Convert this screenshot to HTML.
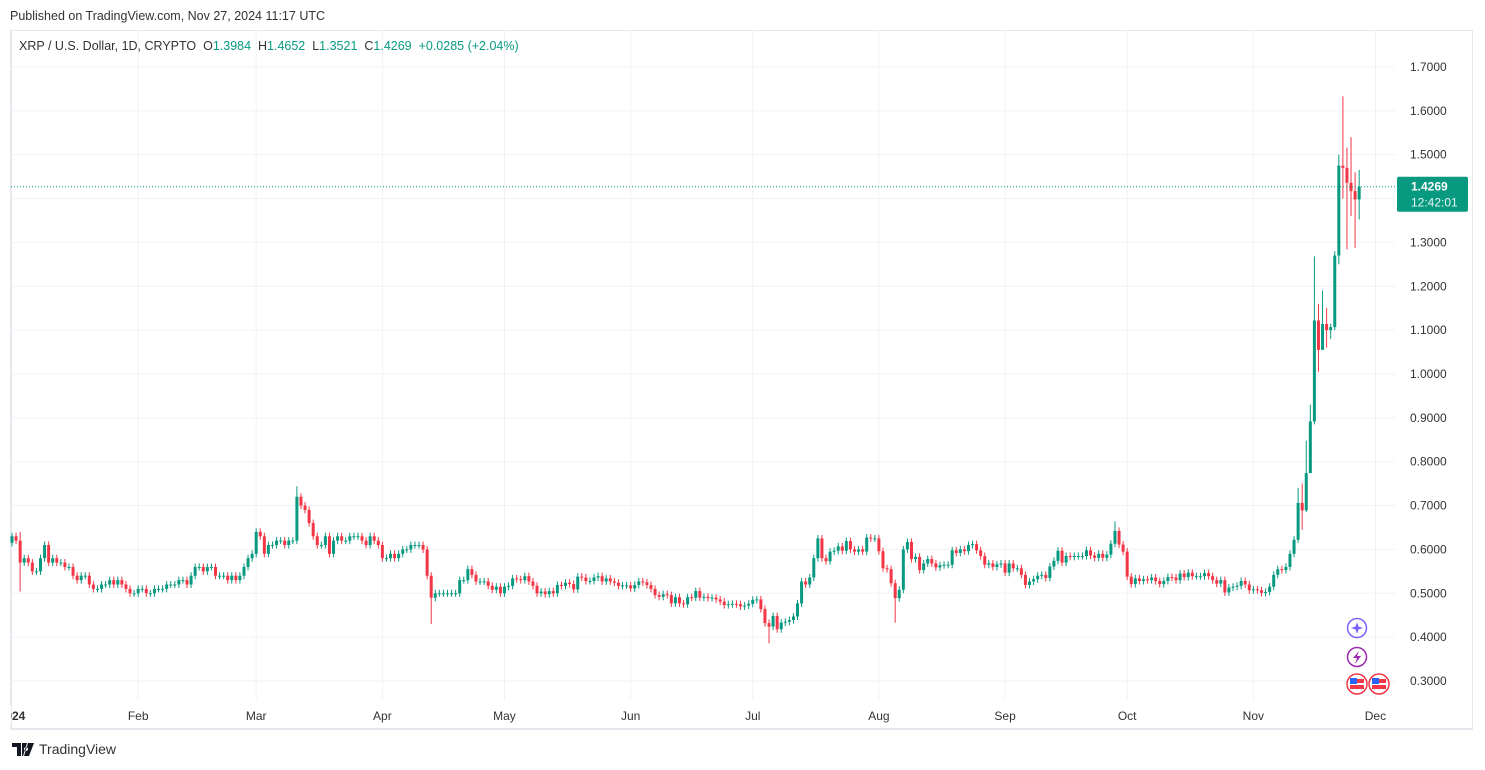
<!DOCTYPE html>
<html><head><meta charset="utf-8">
<style>
html,body{margin:0;padding:0;background:#fff;width:1485px;height:770px;overflow:hidden;font-family:"Liberation Sans",sans-serif;}
#hdr{position:absolute;left:10px;top:9px;font-size:12.5px;color:#333;}
#frame{position:absolute;left:10px;top:30px;width:1463px;height:700px;border:1px solid #e6e8ee;border-left:2px solid #e6e8ee;border-bottom:2px solid #e6e8ee;box-sizing:border-box;}
#legend{position:absolute;left:19px;top:39px;font-size:12.5px;color:#333;white-space:pre;}
#legend .v{color:#089981;}
#logo{position:absolute;left:12px;top:741px;font-size:14px;color:#333;display:flex;align-items:center;gap:5px;}
svg{position:absolute;left:0;top:0;}
</style></head><body>
<div id="hdr">Published on TradingView.com, Nov 27, 2024 11:17 UTC</div>
<div id="frame"></div>
<svg id="chart" width="1485" height="770"></svg>
<div id="legend">XRP / U.S. Dollar, 1D, CRYPTO  O<span class="v">1.3984</span>  H<span class="v">1.4652</span>  L<span class="v">1.3521</span>  C<span class="v">1.4269</span>  <span class="v">+0.0285 (+2.04%)</span></div>
<div id="logo"><svg width="22" height="13" style="position:static"><path d="M0 0h9v13H5V4H0z M10 0h5l-4 13h-1z M14 4a2 2 0 1 0 0.01 0z M16 0h6l-5 13h-5z" fill="#131722"/></svg><span>TradingView</span></div>
<script>
const months = ["Feb","Mar","Apr","May","Jun","Jul","Aug","Sep","Oct","Nov","Dec"];
const monthDays = [31,29,31,30,31,30,31,31,30,31,30];
const priceTicks = [0.3,0.4,0.5,0.6,0.7,0.8,0.9,1.0,1.1,1.2,1.3,1.4,1.5,1.6,1.7];
const firstOpen = 0.615;
const closes = [
0.63,0.62,0.57,0.58,0.57,0.55,0.55,0.58,0.61,0.57,0.58,0.57,0.57,0.56,0.56,0.54,0.53,0.54,0.54,0.52,0.51,0.51,0.52,0.52,0.53,0.52,0.53,0.52,0.51,0.50,0.50,
0.51,0.51,0.50,0.50,0.51,0.51,0.51,0.52,0.52,0.52,0.53,0.53,0.52,0.54,0.56,0.56,0.55,0.56,0.56,0.54,0.54,0.54,0.53,0.54,0.53,0.54,0.56,0.58,0.59,
0.64,0.63,0.59,0.61,0.61,0.62,0.62,0.61,0.62,0.62,0.72,0.70,0.69,0.66,0.63,0.61,0.61,0.63,0.59,0.62,0.63,0.62,0.62,0.63,0.63,0.63,0.62,0.61,0.63,0.62,0.61,
0.58,0.58,0.59,0.58,0.59,0.60,0.60,0.61,0.61,0.61,0.60,0.54,0.49,0.50,0.50,0.50,0.50,0.50,0.50,0.53,0.53,0.555,0.542,0.527,0.527,0.527,0.517,0.508,0.515,0.50,
0.515,0.517,0.534,0.532,0.530,0.539,0.527,0.517,0.50,0.504,0.498,0.505,0.50,0.519,0.517,0.524,0.521,0.509,0.538,0.536,0.528,0.528,0.536,0.539,0.527,0.534,0.527,0.524,0.517,0.518,0.518,
0.511,0.519,0.527,0.525,0.519,0.510,0.496,0.492,0.498,0.496,0.477,0.491,0.477,0.475,0.491,0.490,0.505,0.490,0.492,0.489,0.490,0.486,0.481,0.473,0.475,0.476,0.475,0.470,0.472,0.476,
0.485,0.486,0.464,0.432,0.424,0.448,0.418,0.433,0.435,0.439,0.447,0.477,0.527,0.52,0.536,0.58,0.625,0.58,0.573,0.595,0.597,0.607,0.597,0.619,0.60,0.595,0.60,0.595,0.627,0.625,0.625,
0.596,0.557,0.555,0.523,0.489,0.508,0.60,0.617,0.578,0.583,0.553,0.568,0.578,0.568,0.559,0.564,0.565,0.565,0.598,0.592,0.60,0.596,0.61,0.612,0.598,0.585,0.565,0.568,0.560,0.566,0.568,
0.547,0.568,0.557,0.557,0.542,0.519,0.527,0.532,0.540,0.542,0.535,0.561,0.574,0.597,0.570,0.585,0.583,0.585,0.585,0.585,0.598,0.586,0.581,0.590,0.581,0.588,0.613,0.642,0.611,0.595,
0.538,0.521,0.534,0.528,0.532,0.530,0.536,0.528,0.521,0.528,0.537,0.536,0.530,0.545,0.537,0.547,0.539,0.539,0.539,0.546,0.539,0.530,0.522,0.530,0.502,0.513,0.515,0.517,0.528,0.520,0.507,
0.509,0.507,0.501,0.503,0.515,0.542,0.555,0.553,0.56,0.59,0.622,0.706,0.689,0.774,0.892,1.122,1.055,1.114,1.10,1.107,1.27,1.475,1.47,1.436,1.417,1.398,1.4269];
const highDays = [2,70,271,316,317,318,319,320,321,322,323,325,326,327,328,329,330,331];
const highVals = [0.64,0.744,0.664,0.74,0.75,0.848,0.93,1.268,1.16,1.19,1.15,1.28,1.50,1.633,1.516,1.54,1.46,1.4652];
const lowDays = [2,103,186,217,316,317,318,319,320,321,322,323,324,325,326,327,328,329,330,331];
const lowVals = [0.504,0.43,0.386,0.433,0.615,0.645,0.685,0.87,0.885,1.005,1.06,1.06,1.08,1.10,1.25,1.40,1.284,1.36,1.287,1.3521];

const X0 = 12, DAYPX = 4.07;
const xOf = i => X0 + i*DAYPX;
const yOf = p => 681 - (p-0.3)*438.6;
const svg = document.getElementById('chart');
const NS = 'http://www.w3.org/2000/svg';
function mk(t, a){const e=document.createElementNS(NS,t);for(const k in a)e.setAttribute(k,a[k]);svg.appendChild(e);return e;}

priceTicks.forEach(p=>{
  const l=mk('line',{x1:11,x2:1395,y1:yOf(p),y2:yOf(p),stroke:'#f0f2f6','stroke-width':1});
  
  
  const t=mk('text',{x:1410,y:yOf(p)+4,'font-size':12,fill:'#333','font-family':'Liberation Sans, sans-serif'});
  t.textContent=p.toFixed(4);
  
  
});
let d=0;
months.forEach((m,k)=>{
  d+=monthDays[k];
  const x=xOf(d);
  const l=mk('line',{x1:x,x2:x,y1:31,y2:700,stroke:'#f0f2f6','stroke-width':1});
  
  
  const t=mk('text',{x:x,y:720,'font-size':12,fill:'#333','text-anchor':'middle','font-family':'Liberation Sans, sans-serif'});
  t.textContent=m;
  
  
});
const yr=mk('text',{x:12,y:720,'font-size':12,fill:'#333','font-weight':'bold','text-anchor':'middle','font-family':'Liberation Sans, sans-serif'});
yr.textContent='2024';


const cover=mk('rect',{x:0,y:705,width:11,height:20,fill:'#fff'});



closes.forEach((c,i)=>{
  const o = i===0?firstOpen:closes[i-1];
  let hi = Math.max(o,c)+0.008, lo = Math.min(o,c)-0.008;
  const hk=highDays.indexOf(i); if(hk>=0) hi=highVals[hk];
  const lk=lowDays.indexOf(i); if(lk>=0) lo=lowVals[lk];
  const col = c>=o?'#089981':'#F23645';
  const x=xOf(i);
  const w=mk('line',{x1:x,x2:x,y1:yOf(hi),y2:yOf(lo),stroke:col,'stroke-width':1});
  
  
  const top=yOf(Math.max(o,c)), bh=Math.max(1,yOf(Math.min(o,c))-top);
  const b=mk('rect',{x:x-1.5,y:top,width:3,height:bh,fill:col});
  
  
});

const lastC=closes[closes.length-1];
const pl=mk('line',{x1:11,x2:1397,y1:yOf(lastC),y2:yOf(lastC),stroke:'#089981','stroke-width':1,'stroke-dasharray':'1 2'});


const lb=mk('rect',{x:1397,y:yOf(lastC)-10,width:71,height:35,fill:'#089981',rx:2});


const lt=mk('text',{x:1411,y:yOf(lastC)+4,'font-size':12,fill:'#fff','font-weight':'bold','font-family':'Liberation Sans, sans-serif'});
lt.textContent=lastC.toFixed(4);


const ct=mk('text',{x:1411,y:yOf(lastC)+20,'font-size':12,fill:'#e6f5f2','font-family':'Liberation Sans, sans-serif'});
ct.textContent='12:42:01';



const i1=mk('circle',{cx:1357,cy:628,r:9.5,fill:'#fff',stroke:'#7b61ff','stroke-width':1.5});


const s1=mk('path',{d:'M1357 622 L1358.5 626.5 L1363 628 L1358.5 629.5 L1357 634 L1355.5 629.5 L1351 628 L1355.5 626.5Z',fill:'#7b61ff'});


const i2=mk('circle',{cx:1357,cy:657,r:9.5,fill:'#fff',stroke:'#9c27b0','stroke-width':1.5});


const s2=mk('path',{d:'M1359 651 L1353 658 L1357 658 L1355 664 L1361 656 L1357 656Z',fill:'#9c27b0'});


[1357,1379].forEach(cx=>{
  const f=mk('circle',{cx:cx,cy:684,r:10,fill:'#fff',stroke:'#f23645','stroke-width':1.5});
  
  
  const r=mk('rect',{x:cx-7,y:679,width:14,height:10,fill:'#f23645'});
  
  
  const wS=mk('rect',{x:cx-7,y:683,width:14,height:2,fill:'#fff'});
  
  
  const bl=mk('rect',{x:cx-7,y:678,width:7,height:6,fill:'#2962ff'});
  
  
});
</script>
</body></html>
